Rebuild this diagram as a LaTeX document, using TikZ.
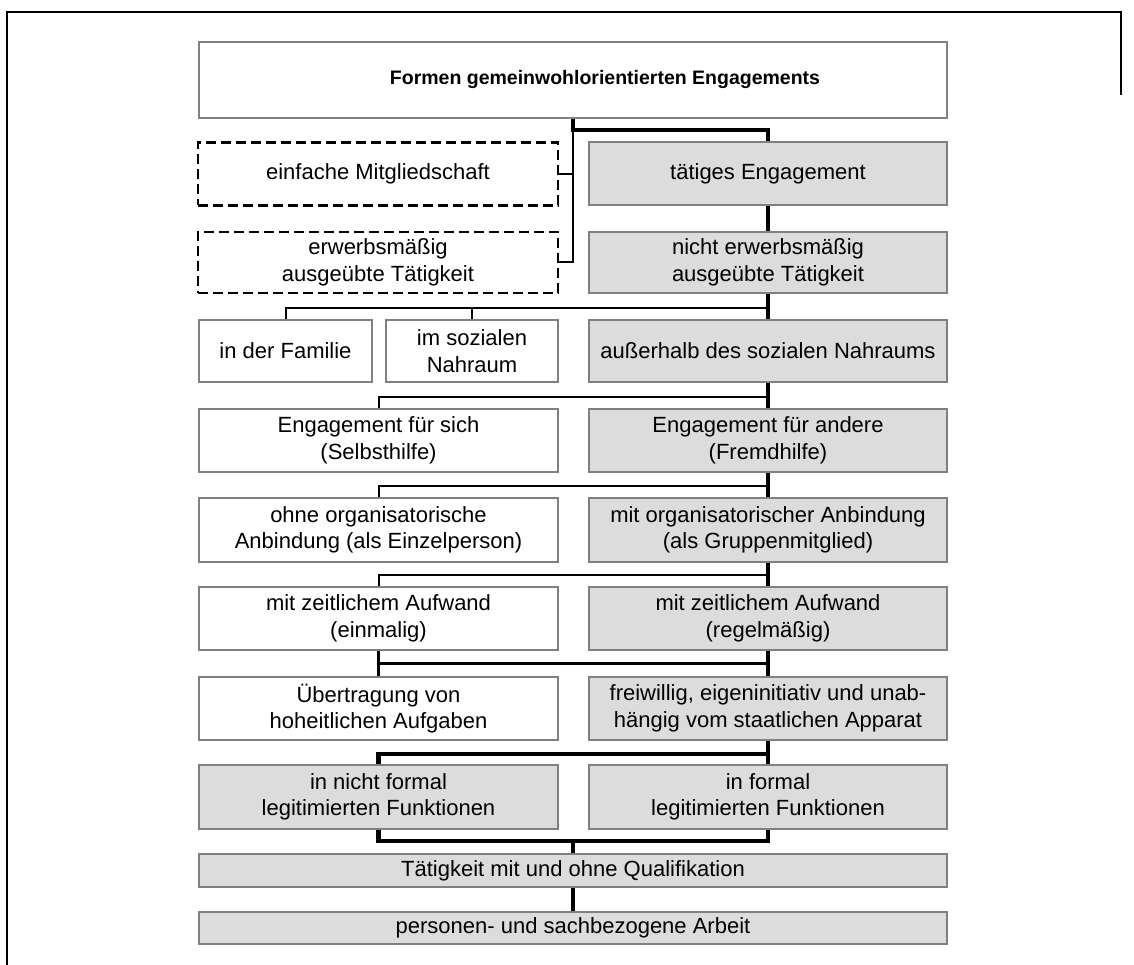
\documentclass[tikz,border=0pt]{standalone}
\usepackage{fontspec}
\setmainfont{Liberation Sans}
\definecolor{bordc}{HTML}{808080}
\definecolor{grayf}{HTML}{DCDCDC}
\begin{document}
\begin{tikzpicture}[x=1pt,y=-1pt,
  box/.style={draw=bordc, line width=1.8pt, inner sep=0pt, align=center,
    font=\fontsize{22}{26.5}\selectfont, text=black},
  wbox/.style={box, fill=white},
  gbox/.style={box, fill=grayf},
  dbox/.style={box, draw=black, fill=white, dash pattern=on 10pt off 5pt, line width=2.8pt},
  lthin/.style={line width=2pt},
  lmid/.style={line width=3pt},
  lthick/.style={line width=4.5pt},
  frame/.style={line width=2pt}
]
\useasboundingbox (0,0) rectangle (1134,965);
% frame
\coordinate (fa) at (7,965);
\coordinate (fb) at (7,12);
\coordinate (fc) at (1121,12);
\coordinate (fd) at (1121,95);
\draw[frame] (fa) -- (fb) -- (fc) -- (fd);

% title
\node[wbox, minimum width=748pt, minimum height=76pt, font=\fontsize{19.5}{23}\selectfont\bfseries] (title) at (573,80) {\hspace*{64pt}Formen gemeinwohlorientierten Engagements};

% row 1-2
\node[dbox, minimum width=360pt, minimum height=63pt] (mit) at (378,174) {einfache Mitgliedschaft};
\node[dbox, minimum width=360pt, minimum height=61pt] (erw) at (378,262.5) {erwerbsmäßig\\ausgeübte Tätigkeit};
\node[gbox, minimum width=358pt, minimum height=63pt] (te) at (768,173.5) {tätiges Engagement};
\node[gbox, minimum width=358pt, minimum height=61pt] (ne) at (768,262.5) {nicht erwerbsmäßig\\ausgeübte Tätigkeit};

% row 3
\node[wbox, minimum width=173pt, minimum height=62pt] (fam) at (285.5,351) {in der Familie};
\node[wbox, minimum width=172pt, minimum height=62pt] (soz) at (472,351) {im sozialen\\Nahraum};
\node[gbox, minimum width=358pt, minimum height=62pt] (au) at (768,351) {außerhalb des sozialen Nahraums};

% row 4
\node[wbox, minimum width=359pt, minimum height=63pt] (es) at (378.5,440.5) {Engagement für sich\\(Selbsthilfe)};
\node[gbox, minimum width=358pt, minimum height=63pt] (ea) at (768,440.5) {Engagement für andere\\(Fremdhilfe)};

% row 5
\node[wbox, minimum width=359pt, minimum height=64pt] (oo) at (378.5,530) {ohne organisatorische\\Anbindung (als Einzelperson)};
\node[gbox, minimum width=358pt, minimum height=64pt] (mo) at (768,530) {mit organisatorischer Anbindung\\(als Gruppenmitglied)};

% row 6
\node[wbox, minimum width=359pt, minimum height=63pt] (ze) at (378.5,618.5) {mit zeitlichem Aufwand\\(einmalig)};
\node[gbox, minimum width=358pt, minimum height=63pt] (zr) at (768,618.5) {mit zeitlichem Aufwand\\(regelmäßig)};

% row 7
\node[wbox, minimum width=359pt, minimum height=63pt] (ue) at (378.5,708.5) {Übertragung von\\hoheitlichen Aufgaben};
\node[gbox, minimum width=358pt, minimum height=63pt] (fr) at (768,708.5) {freiwillig, eigeninitiativ und unab-\\hängig vom staatlichen Apparat};

% row 8
\node[gbox, minimum width=359pt, minimum height=64pt] (nf) at (378.5,797) {in nicht formal\\legitimierten Funktionen};
\node[gbox, minimum width=358pt, minimum height=64pt] (fo) at (768,797) {in formal\\legitimierten Funktionen};

% row 9-10
\node[gbox, minimum width=748pt, minimum height=33pt] (tq) at (573,870.5) {Tätigkeit mit und ohne Qualifikation};
\node[gbox, minimum width=748pt, minimum height=32pt] (pa) at (573,928) {personen- und sachbezogene Arbeit};

% connectors
\path (title.south) ++(0,11) coordinate (j0);
\draw[lthin] (j0) |- (erw.east);
\draw[lthin] (mit.east) -- (mit.east -| j0);
\draw[lthick] (title.south) -- (j0) -| (te.north);
\draw[lthick] (te.south) -- (ne.north);

\draw[lthick] (ne.south) -- (au.north);
\path (ne.south) ++(0,14) coordinate (j1);
\draw[lthin] (j1) -| (fam.north);
\draw[lthin] (soz.north |- j1) -- (soz.north);

\draw[lthick] (au.south) -- (ea.north);
\path (au.south) ++(0,14) coordinate (j2);
\draw[lthin] (j2) -| (es.north);

\draw[lthick] (ea.south) -- (mo.north);
\path (ea.south) ++(0,13) coordinate (j3);
\draw[lthin] (j3) -| (oo.north);

\draw[lthick] (mo.south) -- (zr.north);
\path (mo.south) ++(0,12) coordinate (j4);
\draw[lthin] (j4) -| (ze.north);

\draw[lthick] (zr.south) -- (fr.north);
\path (zr.south) ++(0,13) coordinate (j5);
\draw[lmid] (j5) -- (j5 -| ze.south);
\draw[lmid] (ze.south) -- (ue.north);

\draw[lthick] (fr.south) -- (fo.north);
\path (fr.south) ++(0,13) coordinate (j6);
\draw[lthick] (j6) -| (nf.north);

\path (nf.south) ++(0,11) coordinate (j7);
\draw[lthick] (nf.south) -- (j7) -| (fo.south);
\draw[lthick] (tq.north |- j7) -- (tq.north);
\draw[lthick] (tq.south) -- (pa.north);
\end{tikzpicture}
\end{document}
